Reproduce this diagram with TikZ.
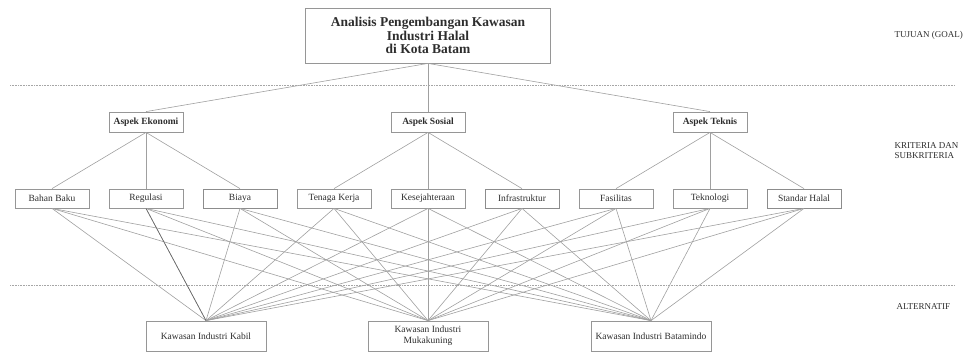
\documentclass[tikz,border=0pt]{standalone}
\usepackage{fontspec}
\setmainfont{Liberation Serif}
\usetikzlibrary{positioning}
\definecolor{linegray}{RGB}{160,160,160}
\definecolor{boxgray}{RGB}{150,150,150}
\definecolor{txtgray}{RGB}{45,45,45}

\begin{document}
\begin{tikzpicture}[x=1pt,y=-1pt,
        box/.style={draw=boxgray,line width=0.8pt,minimum width=74pt,minimum height=19pt,
            inner sep=1pt,text=txtgray,font=\fontsize{9.5}{11}\selectfont},
        darkbox/.style={box,draw=gray!110!black},
        altbox/.style={box,minimum width=120pt,minimum height=30pt,align=center},
        link/.style={draw=linegray,line width=0.6pt},
        level/.style={text=txtgray,font=\fontsize{9}{9.5}\selectfont,anchor=west,align=left},
        sep/.style={draw=gray!70,line width=0.6pt,dash pattern=on 0.8pt off 0.8pt}]
    \useasboundingbox (0,0) rectangle (965,354);

    % goal
    \node[box,minimum width=245pt,minimum height=55pt,align=center,
        font=\bfseries\fontsize{13.5}{13.5}\selectfont] (goal) at (428,35.5)
        {Analisis Pengembangan Kawasan\\Industri Halal\\di Kota Batam};

    % kriteria
    \node[box,font=\bfseries\fontsize{9.5}{11}\selectfont,minimum height=20pt] (ek) at (146,122) {Aspek Ekonomi};
    \node[box,font=\bfseries\fontsize{9.5}{11}\selectfont,minimum height=20pt] (sos) at (428,122) {Aspek Sosial};
    \node[box,font=\bfseries\fontsize{9.5}{11}\selectfont,minimum height=20pt] (tek) at (710,122) {Aspek Teknis};

    % subkriteria
    \foreach \i/\t in {1/Bahan Baku,2/Regulasi,4/Tenaga Kerja,5/Kesejahteraan,7/Fasilitas,8/Teknologi}
        \node[box] (s\i) at ({52+94*(\i-1)},198.5) {\t};
    \foreach \i/\t in {3/Biaya,6/Infrastruktur,9/Standar Halal}
        \node[darkbox] (s\i) at ({52+94*(\i-1)},198.5) {\t};

    % alternatif
    \node[altbox] (a1) at (206,336) {Kawasan Industri Kabil};
    \node[altbox] (a2) at (428,336) {Kawasan Industri\\Mukakuning};
    \node[altbox] (a3) at (651,336) {Kawasan Industri Batamindo};

    % garis
    \foreach \k in {ek,sos,tek}
        \draw[link] (goal.south) -- (\k.north);
    \foreach \i in {1,2,3} \draw[link] (ek.south) -- (s\i.north);
    \foreach \i in {4,5,6} \draw[link] (sos.south) -- (s\i.north);
    \foreach \i in {7,8,9} \draw[link] (tek.south) -- (s\i.north);
    \foreach \i in {1,...,9}
        \foreach \j in {1,2,3}
            \draw[link] (s\i.south) -- (a\j.north);
    \draw[link,draw=gray!80!black] (s2.south) -- (a1.north);

    % tingkat
    \draw[sep] (10,85) -- (955,85);
    \draw[sep] (10,285) -- (955,285);
    \node[level] (lgoal) at (891,35) {TUJUAN (GOAL)};
    \node[level] (lkrit) at (891,150.5) {KRITERIA DAN\\SUBKRITERIA};
    \node[level] (lalt) at (893,307) {ALTERNATIF};
\end{tikzpicture}
\end{document}
